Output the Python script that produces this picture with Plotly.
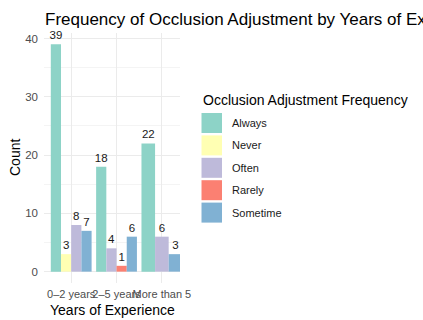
import plotly.graph_objects as go

experience = ["0–2 years", "2–5 years", "More than 5"]
frequencies = ["Always", "Never", "Often", "Rarely", "Sometime"]
always = [39, 18, 22]
never = [3, None, None]
often = [8, 4, 6]
rarely = [None, 1, None]
sometime = [7, 6, 3]
colors = ["#8DD3C7", "#FFFFB3", "#BEBADA", "#FB8072", "#80B1D3"]
yticks = [0, 10, 20, 30, 40]

series = [always, never, often, rarely, sometime]

# plot area in pixels
W, H = 423, 320
L, R, T, B = 44, 180, 33, 283

def px(x):
    return (x - L) / (R - L)

def py(y):
    return (B - y) / (B - T)

FONT = "Liberation Sans, Arial, sans-serif"

# ggplot-style dodge: bars split the 0.9 group width among present categories
present = [[s[g] is not None for s in series] for g in range(len(experience))]

fig = go.Figure()
for si, (name, vals, col) in enumerate(zip(frequencies, series, colors)):
    xs, ys, offs, wids, txt = [], [], [], [], []
    for g, v in enumerate(vals):
        if v is None:
            continue
        n = sum(present[g])
        k = sum(present[g][:si])
        w = 0.9 / n
        xs.append(experience[g])
        ys.append(v)
        offs.append(-0.45 + k * w)
        wids.append(w)
        txt.append(str(v))
    fig.add_trace(go.Bar(
        x=xs, y=ys, name=name, marker=dict(color=col, line=dict(width=0)),
        offset=offs, width=wids, text=txt, textposition="outside",
        constraintext="none", cliponaxis=False,
        textfont=dict(family=FONT, size=11.5, color="#1a1a1a"),
        showlegend=False,
    ))

fig.update_layout(
    width=W, height=H, barmode="overlay",
    margin=dict(l=L, r=W - R, t=T, b=H - B, pad=0),
    paper_bgcolor="white", plot_bgcolor="white",
    font=dict(family=FONT, color="#1a1a1a"),
    title=dict(text="Frequency of Occlusion Adjustment by Years of Experience",
               x=45 / W, xanchor="left", xref="container",
               y=1 - 19 / H, yanchor="middle", yref="container",
               font=dict(family=FONT, size=17, color="#000000")),
    xaxis=dict(type="category", range=[-0.6, 2.4], showgrid=True,
               gridcolor="#EBEBEB", gridwidth=1, zeroline=False,
               showline=False, ticks="", tickangle=0, ticklabelstandoff=3,
               tickfont=dict(family=FONT, size=11, color="#4D4D4D")),
    yaxis=dict(range=[-1.95, 40.95], tickvals=yticks, showgrid=True,
               gridcolor="#EBEBEB", gridwidth=1, zeroline=False,
               showline=False, ticks="", ticklabelstandoff=5,
               tickfont=dict(family=FONT, size=11.5, color="#4D4D4D"),
               minor=dict(dtick=5, tick0=5, showgrid=True,
                          gridcolor="#F4F4F4", gridwidth=0.6)),
)

annotations = [
    dict(text="Count", x=px(15), y=0.5, xref="paper", yref="paper",
         showarrow=False, textangle=-90, xanchor="center", yanchor="middle",
         font=dict(family=FONT, size=14, color="#000000")),
    dict(text="Years of Experience", x=0.5, y=py(310), xref="paper", yref="paper",
         showarrow=False, xanchor="center", yanchor="middle",
         font=dict(family=FONT, size=14, color="#000000")),
    dict(text="Occlusion Adjustment Frequency", x=px(201), y=py(100),
         xref="paper", yref="paper", xanchor="left", yanchor="middle",
         showarrow=False, font=dict(family=FONT, size=14, color="#000000")),
]
shapes = []
for i, (name, col) in enumerate(zip(frequencies, colors)):
    top = 113 + i * 22.4
    shapes.append(dict(type="rect", xref="paper", yref="paper",
                       x0=px(201.5), x1=px(222), y0=py(top + 20), y1=py(top),
                       fillcolor=col, line=dict(width=0)))
    annotations.append(dict(text=name, x=px(230), y=py(top + 10),
                            xref="paper", yref="paper", xanchor="left",
                            yanchor="middle", showarrow=False,
                            font=dict(family=FONT, size=11, color="#1a1a1a")))
fig.update_layout(annotations=annotations, shapes=shapes)

fig.write_html("out.html")
